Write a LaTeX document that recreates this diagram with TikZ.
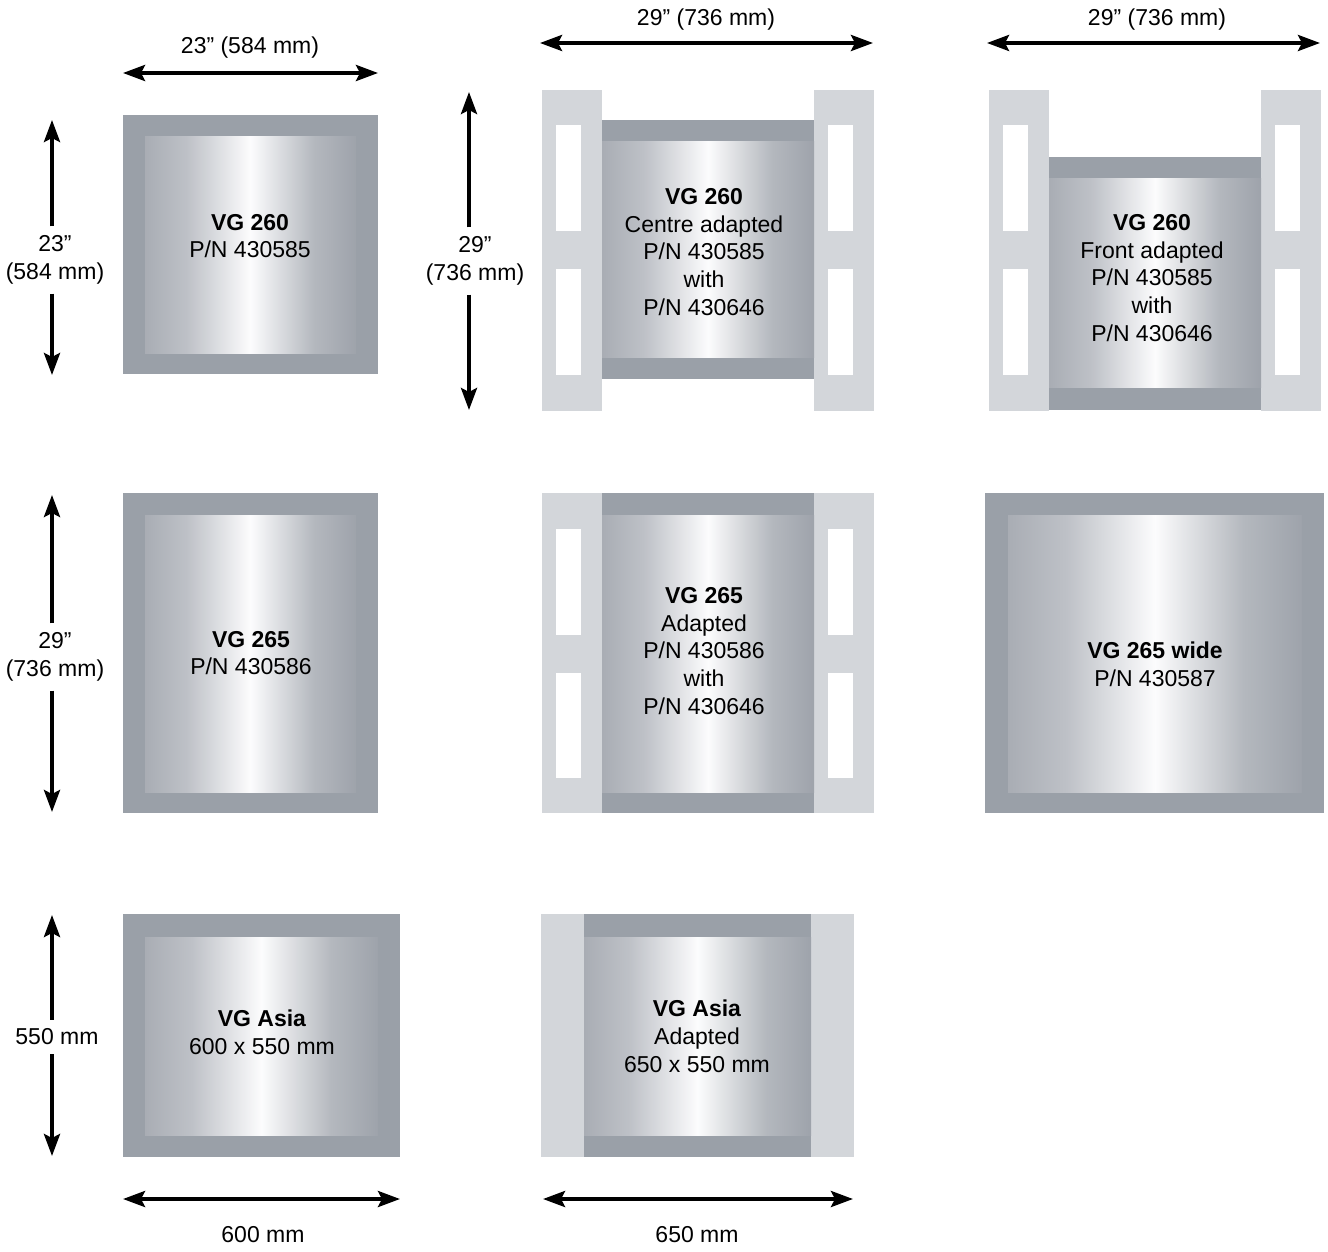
\documentclass[tikz,border=0pt]{standalone}
\usepackage{fontspec}
\setmainfont{Liberation Sans}
\usetikzlibrary{arrows.meta}
\definecolor{frame}{HTML}{9AA0A8}
\definecolor{adapter}{HTML}{D3D6DA}
\definecolor{mA}{HTML}{A9ADB4}
\definecolor{mB}{HTML}{BEC1C7}
\definecolor{mC}{HTML}{FCFCFD}
\definecolor{mD}{HTML}{B4B8BE}
\definecolor{mE}{HTML}{9EA3AB}
\pgfdeclarehorizontalshading{metal}{100bp}{color(0bp)=(mA); color(25bp)=(mA); color(35bp)=(mB); color(50bp)=(mC); color(65bp)=(mD); color(75bp)=(mE); color(100bp)=(mE)}
\tikzset{
  tipshape/.tip={Stealth[length=22pt,width=16pt,inset=4pt]},
  dimarrow/.style={line width=3.8pt, tipshape-tipshape},
  halfarrow/.style={line width=3.8pt, -tipshape},
  lbl/.style={font=\fontsize{23}{27.8}\selectfont, align=center, inner sep=0pt},
  splitlbl/.style={lbl, inner sep=9pt},
  framepart/.style={fill=frame},
  adapterpart/.style={fill=adapter},
  holepart/.style={fill=white},
  metalpart/.style={shading=metal},
}
\begin{document}
\begin{tikzpicture}[x=1pt,y=-1pt]
\useasboundingbox (0,0) rectangle (1328,1252);

% ---------- Panel 1: VG 260
\fill[framepart] (123,115) rectangle (378,374);
\shade[metalpart] (145,137) rectangle (356,353);
\node[lbl] (t1) at (250,236) {\textbf{VG 260}\\P/N 430585};

% ---------- Panel 2: VG 260 centre adapted
\fill[adapterpart] (542,90) rectangle (602,411);
\fill[adapterpart] (814,90) rectangle (874,411);
\fill[holepart] (556,125) rectangle (581,231);
\fill[holepart] (556,269) rectangle (581,375);
\fill[holepart] (828,125) rectangle (853,231);
\fill[holepart] (828,269) rectangle (853,375);
\fill[framepart] (602,120) rectangle (814,379);
\shade[metalpart] (602,142) rectangle (814,357);
\node[lbl] (t2) at (704,252) {\textbf{VG 260}\\Centre adapted\\P/N 430585\\with\\P/N 430646};

% ---------- Panel 3: VG 260 front adapted
\fill[adapterpart] (989,90) rectangle (1049,411);
\fill[adapterpart] (1261,90) rectangle (1321,411);
\fill[holepart] (1003,125) rectangle (1028,231);
\fill[holepart] (1003,269) rectangle (1028,375);
\fill[holepart] (1275,125) rectangle (1300,231);
\fill[holepart] (1275,269) rectangle (1300,375);
\fill[framepart] (1049,157) rectangle (1261,410);
\shade[metalpart] (1049,179) rectangle (1261,387);
\node[lbl] (t3) at (1152,278) {\textbf{VG 260}\\Front adapted\\P/N 430585\\with\\P/N 430646};

% ---------- Panel 4: VG 265
\fill[framepart] (123,493) rectangle (378,813);
\shade[metalpart] (145,515) rectangle (356,792);
\node[lbl] (t4) at (251,653) {\textbf{VG 265}\\P/N 430586};

% ---------- Panel 5: VG 265 adapted
\fill[adapterpart] (542,493) rectangle (602,813);
\fill[adapterpart] (814,493) rectangle (874,813);
\fill[holepart] (556,529) rectangle (581,635);
\fill[holepart] (556,673) rectangle (581,778);
\fill[holepart] (828,529) rectangle (853,635);
\fill[holepart] (828,673) rectangle (853,778);
\fill[framepart] (602,493) rectangle (814,813);
\shade[metalpart] (602,515) rectangle (814,792);
\node[lbl] (t5) at (704,651) {\textbf{VG 265}\\Adapted\\P/N 430586\\with\\P/N 430646};

% ---------- Panel 6: VG 265 wide
\fill[framepart] (985,493) rectangle (1324,813);
\shade[metalpart] (1008,515) rectangle (1302,792);
\node[lbl] (t6) at (1155,664) {\textbf{VG 265 wide}\\P/N 430587};

% ---------- Panel 7: VG Asia
\fill[framepart] (123,914) rectangle (400,1157);
\shade[metalpart] (145,937) rectangle (378,1135);
\node[lbl] (t7) at (262,1032) {\textbf{VG Asia}\\600 x 550 mm};

% ---------- Panel 8: VG Asia adapted
\fill[adapterpart] (541,914) rectangle (584,1157);
\fill[adapterpart] (811,914) rectangle (854,1157);
\fill[framepart] (584,914) rectangle (811,1157);
\shade[metalpart] (584,937) rectangle (811,1135);
\node[lbl] (t8) at (697,1036) {\textbf{VG Asia}\\Adapted\\650 x 550 mm};

% ---------- Horizontal dimensions
\coordinate (h1a) at (123,73);  \coordinate (h1b) at (378,73);
\draw[dimarrow] (h1a) -- (h1b);
\node[lbl] (d1) at (250,47.5) {23” (584 mm)};

\coordinate (h2a) at (540,43);  \coordinate (h2b) at (873,43);
\draw[dimarrow] (h2a) -- (h2b);
\node[lbl] (d2) at (706,19.5) {29” (736 mm)};

\coordinate (h3a) at (987,43);  \coordinate (h3b) at (1320,43);
\draw[dimarrow] (h3a) -- (h3b);
\node[lbl] (d3) at (1157,19.5) {29” (736 mm)};

\coordinate (h4a) at (123,1199); \coordinate (h4b) at (400,1199);
\draw[dimarrow] (h4a) -- (h4b);
\node[lbl] (d4) at (263,1235) {600 mm};

\coordinate (h5a) at (543,1199); \coordinate (h5b) at (853,1199);
\draw[dimarrow] (h5a) -- (h5b);
\node[lbl] (d5) at (697,1235) {650 mm};

% ---------- Vertical dimensions (split by label)
\node[splitlbl] (v1) at (55,260) {23”\\(584 mm)};
\coordinate (v1a) at (52,120); \coordinate (v1b) at (52,375);
\draw[halfarrow] (v1a |- v1.north) -- (v1a);
\draw[halfarrow] (v1b |- v1.south) -- (v1b);

\node[splitlbl] (v2) at (475,261) {29”\\(736 mm)};
\coordinate (v2a) at (469,92); \coordinate (v2b) at (469,410);
\draw[halfarrow] (v2a |- v2.north) -- (v2a);
\draw[halfarrow] (v2b |- v2.south) -- (v2b);

\node[splitlbl] (v3) at (55,657) {29”\\(736 mm)};
\coordinate (v3a) at (52,495); \coordinate (v3b) at (52,812);
\draw[halfarrow] (v3a |- v3.north) -- (v3a);
\draw[halfarrow] (v3b |- v3.south) -- (v3b);

\node[splitlbl] (v4) at (57,1037) {550 mm};
\coordinate (v4a) at (52,915); \coordinate (v4b) at (52,1156);
\draw[halfarrow] (v4a |- v4.north) -- (v4a);
\draw[halfarrow] (v4b |- v4.south) -- (v4b);
\end{tikzpicture}
\end{document}
